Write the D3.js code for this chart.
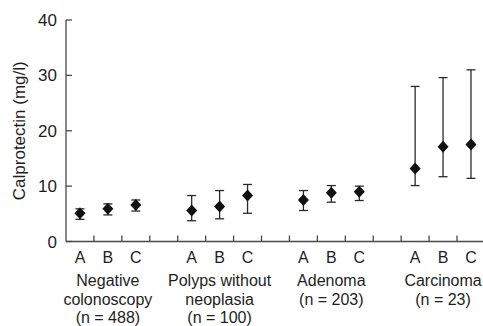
<!DOCTYPE html>
<html>
<head>
<meta charset="utf-8">
<script src="https://cdn.jsdelivr.net/npm/d3@7"></script>
<style>
  html, body { margin: 0; padding: 0; background: #fff; }
  svg { display: block; font-family: "Liberation Sans", Arial, Helvetica, sans-serif; }
</style>
</head>
<body>
<svg id="chart" width="483" height="326"></svg>
<script>
// Faecal calprotectin by diagnostic group and sample (median with range)
const groups = ["Negative colonoscopy", "Polyps without neoplasia", "Adenoma", "Carcinoma"];
const groupLabels = [
  ["Negative", "colonoscopy", "(n = 488)"],
  ["Polyps without", "neoplasia", "(n = 100)"],
  ["Adenoma", "(n = 203)"],
  ["Carcinoma", "(n = 23)"]
];
const samples = ["A", "B", "C"];
const medians = [
  [5.1, 5.9, 6.6],
  [5.6, 6.3, 8.3],
  [7.5, 8.8, 9.0],
  [13.2, 17.1, 17.5]
];
const lows = [
  [4.0, 4.8, 5.5],
  [3.75, 4.1, 5.1],
  [5.6, 7.1, 7.4],
  [10.1, 11.7, 11.4]
];
const highs = [
  [5.9, 6.8, 7.5],
  [8.3, 9.2, 10.3],
  [9.2, 10.1, 10.0],
  [28.0, 29.6, 31.0]
];
const yTicks = [0, 10, 20, 30, 40];

const svg = d3.select("#chart");
const ink = "#1e1e1e";
const axisInk = "#4a4a4a";

// One slot per sample plus an empty slot between neighbouring groups
const slots = [];
groups.forEach((g, gi) => {
  samples.forEach(s => slots.push(g + "|" + s));
  if (gi < groups.length - 1) slots.push("gap" + gi);
});

const left = 66, slotW = 27.93;
const x = d3.scaleBand().domain(slots).range([left, left + slots.length * slotW]).padding(0);
const y = d3.scaleLinear().domain([0, 40]).range([241.5, 20]);

// Y axis with inward ticks
const yAxis = svg.append("g");
yAxis.append("line")
  .attr("x1", left).attr("x2", left)
  .attr("y1", y(40)).attr("y2", y(0))
  .attr("stroke", axisInk).attr("stroke-width", 1.3);
yAxis.selectAll("line.tick").data(yTicks).join("line")
  .attr("class", "tick")
  .attr("x1", left).attr("x2", left + 6)
  .attr("y1", d => y(d)).attr("y2", d => y(d))
  .attr("stroke", axisInk).attr("stroke-width", 1.3);
yAxis.selectAll("text").data(yTicks).join("text")
  .attr("x", left - 9).attr("y", d => y(d))
  .attr("dy", "0.36em")
  .attr("text-anchor", "end")
  .attr("font-size", 17)
  .attr("fill", ink)
  .text(d => d);

svg.append("text")
  .attr("transform", `translate(25,${(y(0) + y(40)) / 2}) rotate(-90)`)
  .attr("text-anchor", "middle")
  .attr("font-size", 17)
  .attr("fill", ink)
  .text("Calprotectin (mg/l)");

// X axis with inward ticks at slot boundaries
const xAxis = svg.append("g");
xAxis.append("line")
  .attr("x1", left).attr("x2", 483)
  .attr("y1", y(0)).attr("y2", y(0))
  .attr("stroke", axisInk).attr("stroke-width", 1.3);
xAxis.selectAll("line.tick").data(slots.slice(1)).join("line")
  .attr("class", "tick")
  .attr("x1", d => x(d)).attr("x2", d => x(d))
  .attr("y1", y(0)).attr("y2", y(0) - 6)
  .attr("stroke", axisInk).attr("stroke-width", 1.3);

// Sample letters under each slot
const points = [];
groups.forEach((g, gi) => samples.forEach((s, si) => points.push({
  key: g + "|" + s, sample: s,
  med: medians[gi][si], lo: lows[gi][si], hi: highs[gi][si]
})));

const cx = d => x(d.key) + x.bandwidth() / 2;

svg.append("g").selectAll("text").data(points).join("text")
  .attr("x", cx).attr("y", 262.7)
  .attr("text-anchor", "middle")
  .attr("font-size", 16)
  .attr("fill", ink)
  .text(d => d.sample);

// Group captions centred under the middle sample
const caption = svg.append("g");
groups.forEach((g, gi) => {
  const mid = x(g + "|B") + x.bandwidth() / 2;
  caption.append("text")
    .attr("x", mid).attr("y", 286)
    .attr("text-anchor", "middle")
    .attr("font-size", 16)
    .attr("fill", ink)
    .selectAll("tspan").data(groupLabels[gi]).join("tspan")
    .attr("x", mid)
    .attr("dy", (d, i) => i === 0 ? 0 : 18.5)
    .text(d => d);
});

// Range bars with caps
const bars = svg.append("g").attr("stroke", "#2a2a2a").attr("stroke-width", 1.3);
bars.selectAll("line.stem").data(points).join("line")
  .attr("class", "stem")
  .attr("x1", cx).attr("x2", cx)
  .attr("y1", d => y(d.lo)).attr("y2", d => y(d.hi));
bars.selectAll("line.capHi").data(points).join("line")
  .attr("class", "capHi")
  .attr("x1", d => cx(d) - 4.5).attr("x2", d => cx(d) + 4.5)
  .attr("y1", d => y(d.hi)).attr("y2", d => y(d.hi));
bars.selectAll("line.capLo").data(points).join("line")
  .attr("class", "capLo")
  .attr("x1", d => cx(d) - 4.5).attr("x2", d => cx(d) + 4.5)
  .attr("y1", d => y(d.lo)).attr("y2", d => y(d.lo));

// Median markers (filled diamonds)
svg.append("g").selectAll("path").data(points).join("path")
  .attr("d", d => {
    const px = cx(d), py = y(d.med);
    return `M${px},${py - 6}L${px + 5.5},${py}L${px},${py + 6}L${px - 5.5},${py}Z`;
  })
  .attr("fill", "#111");
</script>
</body>
</html>
